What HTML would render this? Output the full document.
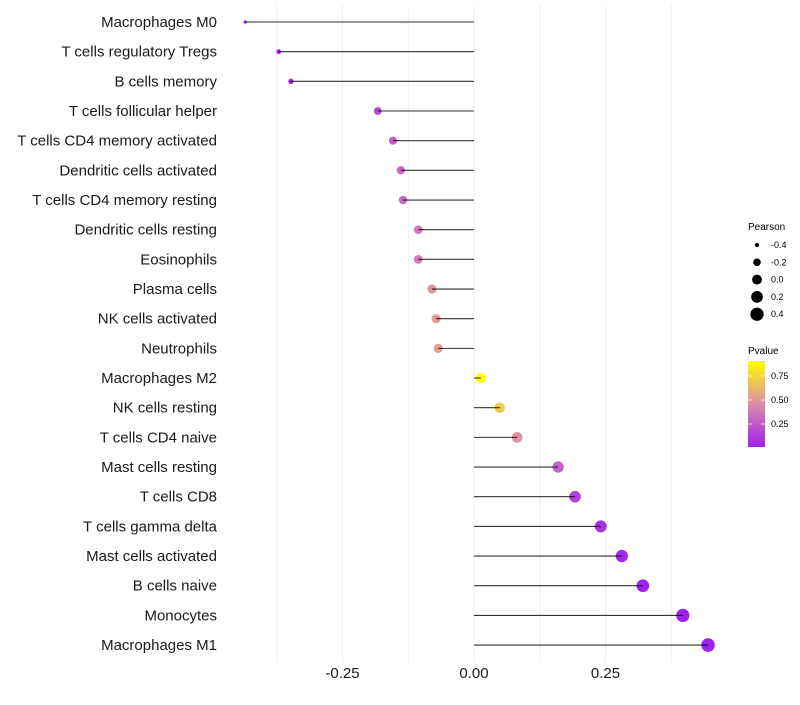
<!DOCTYPE html>
<html><head><meta charset="utf-8"><style>
body{margin:0;background:#fff;font-family:"Liberation Sans",sans-serif;}
svg text{font-family:"Liberation Sans",sans-serif;}
</style></head><body>
<svg id="chart" width="800" height="700" xmlns="http://www.w3.org/2000/svg">
<defs><linearGradient id="pg" x1="0" y1="1" x2="0" y2="0">
<stop offset="0" stop-color="#A020F0"/><stop offset="0.5" stop-color="#DC8CA8"/><stop offset="1" stop-color="#FFFF00"/></linearGradient></defs>
<g id="grid"></g>
<g id="marks"></g>
<g id="ylabels"></g>
<g id="xlabels"></g>
<g>
<text x="748" y="230" font-size="10">Pearson</text>
<g id="sizeLegend"></g>
</g>
<g>
<text x="748" y="354" font-size="10">Pvalue</text>
<rect x="748" y="361" width="17" height="86" fill="url(#pg)"/>
<g stroke="#fff" stroke-width="1" opacity="0.7"><line x1="748" x2="752" y1="376" y2="376"/><line x1="761" x2="765" y1="376" y2="376"/><line x1="748" x2="752" y1="400" y2="400"/><line x1="761" x2="765" y1="400" y2="400"/><line x1="748" x2="752" y1="424" y2="424"/><line x1="761" x2="765" y1="424" y2="424"/></g>
<text x="771" y="379" font-size="9">0.75</text>
<text x="771" y="403" font-size="9">0.50</text>
<text x="771" y="427" font-size="9">0.25</text>
</g>
</svg>
<script>
const categories=["Macrophages M0","T cells regulatory  Tregs","B cells memory","T cells follicular helper","T cells CD4 memory activated","Dendritic cells activated","T cells CD4 memory resting","Dendritic cells resting","Eosinophils","Plasma cells","NK cells activated","Neutrophils","Macrophages M2","NK cells resting","T cells CD4 naive","Mast cells resting","T cells CD8","T cells gamma delta","Mast cells activated","B cells naive","Monocytes","Macrophages M1"];
const pearson=[-0.435,-0.371,-0.348,-0.183,-0.154,-0.139,-0.135,-0.106,-0.106,-0.080,-0.072,-0.068,0.013,0.049,0.082,0.160,0.192,0.241,0.281,0.321,0.397,0.445];
const pvalue=[0.01,0.02,0.02,0.2,0.3,0.33,0.35,0.4,0.4,0.52,0.54,0.56,0.93,0.72,0.5,0.3,0.17,0.1,0.06,0.04,0.02,0.01];
const xTicks=[-0.25,0,0.25];
const xTickLabels=["-0.25","0.00","0.25"];
const xGrid=[-0.375,-0.25,-0.125,0,0.125,0.25,0.375];
const sizeLegend=[-0.4,-0.2,0,0.2,0.4];
const NS="http://www.w3.org/2000/svg";
function X(v){return 474+v*526;}
function Y(i){return 22+i*29.67;}
function R(v){return 1.05*Math.sqrt(Math.max(1,22+44.7*v));}
function col(p){const t=Math.max(0,Math.min(1,(p-0.03)/0.9));
 const a=[160,32,240],m=[220,140,168],b=[255,255,0];let c;
 if(t<0.5){const u=t/0.5;c=a.map((x,k)=>x+(m[k]-x)*u);}else{const u=(t-0.5)/0.5;c=m.map((x,k)=>x+(b[k]-x)*u);}
 return "rgb("+c.map(Math.round).join(",")+")";}
function mk(tag,attrs,parent){const e=document.createElementNS(NS,tag);for(const k in attrs)e.setAttribute(k,attrs[k]);document.getElementById(parent).appendChild(e);return e;}
xGrid.forEach(v=>{const l=mk("line",{x1:X(v),x2:X(v),y1:5,y2:662,stroke:"#f0f0f0","stroke-width":1},"grid");

});
categories.forEach((c,i)=>{
 const pt=mk("circle",{cx:X(pearson[i]),cy:Y(i),r:R(pearson[i]),fill:col(pvalue[i])},"marks");
 
 
 const ln=mk("line",{x1:X(0),x2:X(pearson[i]),y1:Y(i),y2:Y(i),stroke:"#000","stroke-width":1.1,opacity:0.8},"marks");
 
 
 const t=mk("text",{x:217,y:Y(i)+5,"text-anchor":"end","font-size":15,fill:"#1a1a1a"},"ylabels");
 t.textContent=c;
 
 
});
xTicks.forEach((v,i)=>{const t=mk("text",{x:X(v),y:678,"text-anchor":"middle","font-size":15,fill:"#1a1a1a"},"xlabels");
t.textContent=xTickLabels[i];

});
sizeLegend.forEach((v,i)=>{const y=245+i*17.3;
 const c=mk("circle",{cx:757,cy:y,r:R(v),fill:"#000"},"sizeLegend");
 
 
 const t=mk("text",{x:771,y:y+3,"font-size":9},"sizeLegend");
 t.textContent=v.toFixed(1);
 
 });
</script>
</body></html>
